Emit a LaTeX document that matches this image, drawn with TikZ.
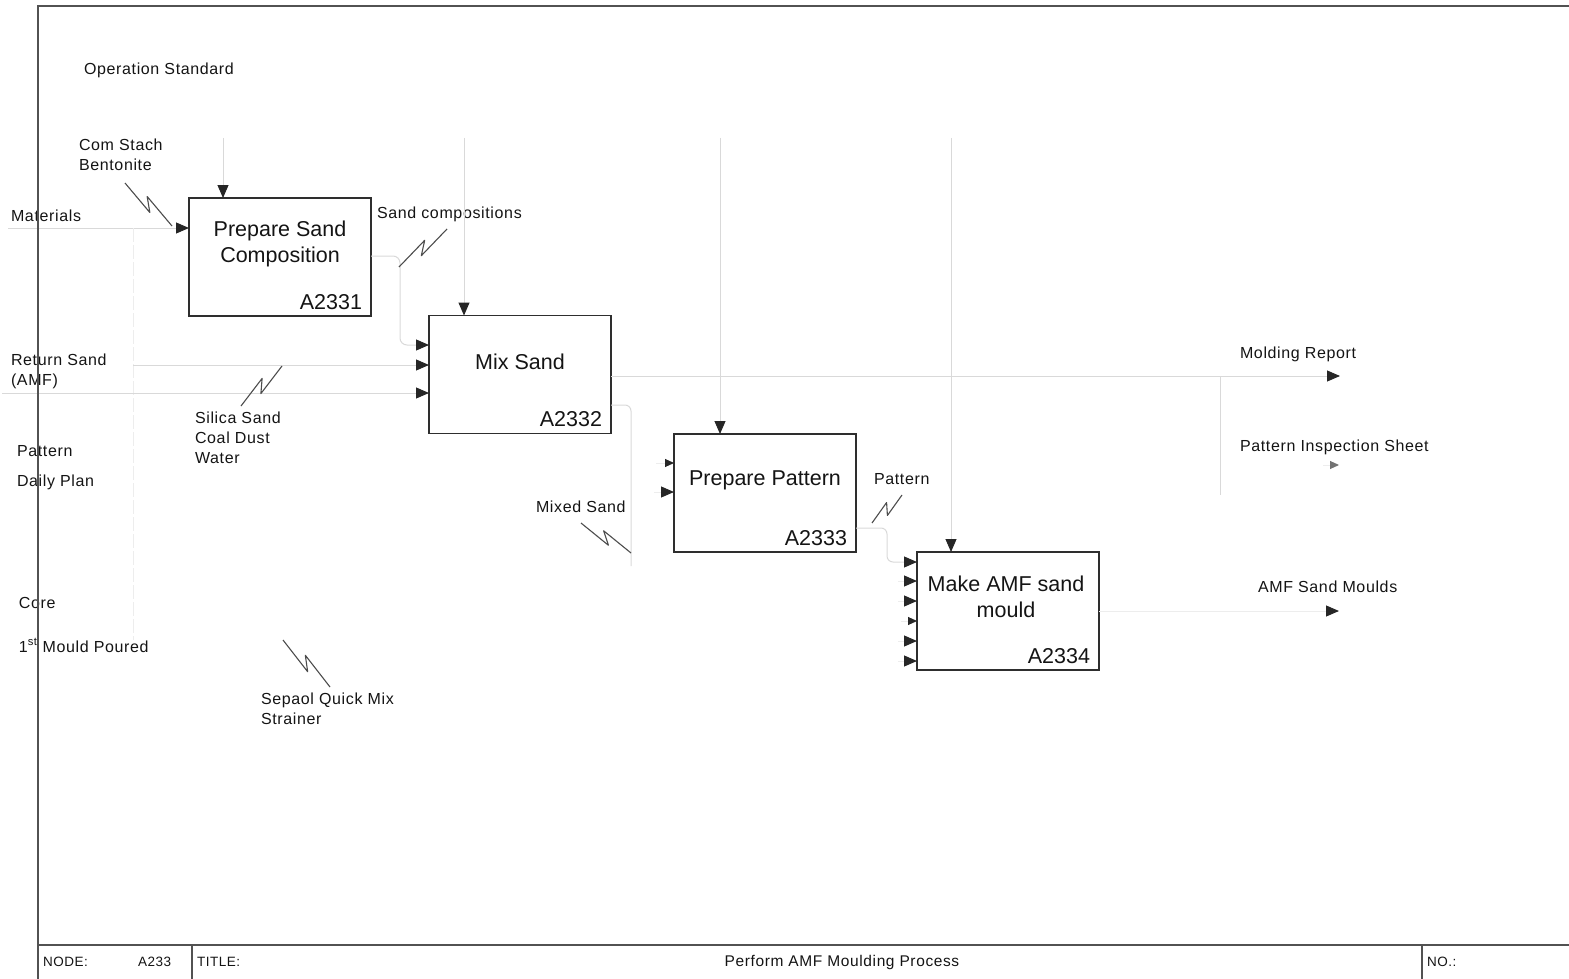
\documentclass[tikz,border=0pt]{standalone}
\usepackage{fontspec}
\setmainfont{Liberation Sans}
\newfontfamily\lblfont[LetterSpace=4]{Liberation Sans}
\usetikzlibrary{arrows.meta,calc}
\colorlet{inkcol}{black!92}
\colorlet{wirecol}{black!15}
\colorlet{faintcol}{black!7}
\colorlet{tipcol}{black!85}
% squiggle leader from (#1,#2) to (#3,#4); #5 = side of the kink (+1/-1)
\newcommand\leaderzig[5]{%
  \pgfmathsetmacro\zgdx{#3-#1}%
  \pgfmathsetmacro\zgdy{#4-#2}%
  \pgfmathsetmacro\zglen{veclen(\zgdx,\zgdy)}%
  \pgfmathsetmacro\zgpx{-(#5)*\zgdy/\zglen*5}%
  \pgfmathsetmacro\zgpy{(#5)*\zgdx/\zglen*5}%
  \draw[zig] (#1,#2) -- ({#1+0.6*\zgdx+\zgpx},{#2+0.6*\zgdy+\zgpy})
    -- ({#1+0.4*\zgdx-\zgpx},{#2+0.4*\zgdy-\zgpy}) -- (#3,#4);}
\begin{document}
\begin{tikzpicture}[x=1pt,y=-1pt,
  every node/.style={inner sep=0pt,outer sep=0pt,text=inkcol},
  frameline/.style={draw=black!68,line width=1.2pt},
  procbox/.style={draw=black!82,line width=1.3pt,minimum width=182pt,minimum height=118pt},
  boxtext/.style={font=\fontsize{21.5}{25.5}\selectfont,align=center},
  boxid/.style={font=\fontsize{21.5}{25.5}\selectfont,anchor=base east},
  lbl/.style={font=\lblfont\fontsize{16}{20}\selectfont,align=left},
  barlbl/.style={font=\lblfont\fontsize{13.5}{15}\selectfont,anchor=west},
  wire/.style={draw=wirecol,line width=1pt},
  ghost/.style={draw=faintcol,line width=1pt},
  arrow/.style={wire,-{Triangle[length=13pt,width=11pt,color=tipcol]}},
  ghostarrow/.style={ghost,-{Triangle[length=13pt,width=11pt,color=tipcol]}},
  ghostsmall/.style={ghost,-{Triangle[length=9pt,width=8pt,color=tipcol]}},
  palesmall/.style={ghost,-{Triangle[length=9pt,width=8pt,color=black!55]}},
  zig/.style={draw=black!70,line width=1.1pt,line join=round},
]
\useasboundingbox (0,0) rectangle (1569,979);

% ---------- activity boxes ----------
\node[procbox] (b1) at (280,257) {};
\node[boxtext] (b1t) at (280,244) {Prepare Sand\\Composition};
\node[boxid] (b1id) at ($(b1.south east)+(-9,-7)$) {A2331};

\node[procbox] (b2) at (520,374.5) {};
\node[boxtext] (b2t) at (520,362) {Mix Sand};
\node[boxid] (b2id) at ($(b2.south east)+(-9,-7)$) {A2332};

\node[procbox] (b3) at (765,493) {};
\node[boxtext] (b3t) at (765,480) {Prepare Pattern};
\node[boxid] (b3id) at ($(b3.south east)+(-9,-7)$) {A2333};

\node[procbox] (b4) at (1008,611) {};
\node[boxtext] (b4t) at (1006,597) {Make AMF sand\\mould};
\node[boxid] (b4id) at ($(b4.south east)+(-9,-7)$) {A2334};

% ---------- arrow labels ----------
\node[lbl,anchor=base west] (lOS) at (84,75) {Operation Standard};
\node[lbl,anchor=north west] (lCS) at (79,139) {Com Stach\\Bentonite};
\node[lbl,anchor=base west] (lMat) at (11,221) {Materials};
\node[lbl,anchor=base west] (lSC) at (377,218) {Sand compositions};
\node[lbl,anchor=north west] (lRS) at (11,354) {Return Sand\\(AMF)};
\node[lbl,anchor=north west] (lSi) at (195,412) {Silica Sand\\Coal Dust\\Water};
\node[lbl,anchor=base west] (lPt) at (17,456) {Pattern};
\node[lbl,anchor=base west] (lDP) at (17,486) {Daily Plan};
\node[lbl,anchor=base west] (lMS) at (536,512) {Mixed Sand};
\node[lbl,anchor=base west] (lPt2) at (874,484) {Pattern};
\node[lbl,anchor=base west] (lCo) at (19,608) {Core};
\node[lbl,anchor=base west] (lMP) at (19,652) {1\textsuperscript{st} Mould Poured};
\node[lbl,anchor=north west] (lSQ) at (261,693) {Sepaol Quick Mix\\Strainer};
\node[lbl,anchor=base west] (lMR) at (1240,358) {Molding Report};
\node[lbl,anchor=base west] (lPI) at (1240,451) {Pattern Inspection Sheet};
\node[lbl,anchor=base west] (lAM) at (1258,592) {AMF Sand Moulds};

% ---------- controls ----------
\coordinate (c1) at (223,138);
\coordinate (c2) at (464,138);
\coordinate (c3) at (720,138);
\coordinate (c4) at (951,138);
\draw[arrow] (c1) -- (c1 |- b1.north);
\draw[arrow] (c2) -- (c2 |- b2.north);
\draw[arrow] (c3) -- (c3 |- b3.north);
\draw[arrow] (c4) -- (c4 |- b4.north);

% ---------- inputs ----------
\coordinate (mat) at (8,228);
\draw[arrow] (mat) -- (mat -| b1.west);
\coordinate (matD) at (133,640);
\draw[ghost,dash pattern=on 14pt off 3pt] (mat -| matD) -- (matD);

\coordinate (scA) at (400,256);
\coordinate (scB) at (400,345);
\draw[arrow,rounded corners=7pt] (scA -| b1.east) -- (scA) -- (scB) -- (scB -| b2.west);

\coordinate (rsA) at (133,365);
\draw[arrow] (rsA) -- (rsA -| b2.west);
\coordinate (rsB) at (2,393);
\draw[arrow] (rsB) -- (rsB -| b2.west);

\coordinate (p3a) at (656,463);
\draw[ghostsmall] (p3a) -- (p3a -| b3.west);
\coordinate (p3b) at (654,492);
\draw[ghostarrow] (p3b) -- (p3b -| b3.west);

\coordinate (ptA) at (887,528);
\coordinate (ptB) at (887,562);
\draw[arrow,rounded corners=6pt] (ptA -| b3.east) -- (ptA) -- (ptB) -- (ptB -| b4.west);

\foreach \yy/\nm in {581/m1,601/m2,641/m4,661/m5}{
  \coordinate (\nm) at (898,\yy);
  \draw[ghostarrow] (\nm) -- (\nm -| b4.west);
}
\coordinate (m3) at (901,621);
\draw[ghostsmall] (m3) -- (m3 -| b4.west);

% ---------- outputs ----------
\coordinate (mr) at (1340,376);
\draw[arrow] (mr -| b2.east) -- (mr);
\coordinate (brA) at (1220,376);
\coordinate (brB) at (1220,495);
\draw[wire] (brA) -- (brB);

\coordinate (msA) at (631,405);
\coordinate (msB) at (631,566);
\draw[wire,rounded corners=6pt] (msA -| b2.east) -- (msA) -- (msB);

\coordinate (pis) at (1339,465);
\draw[palesmall] ($(pis)+(-16,0)$) -- (pis);
\coordinate (asm) at (1339,611);
\draw[ghostarrow] (asm -| b4.east) -- (asm);

% ---------- squiggle leaders ----------
\leaderzig{125}{183}{172}{226}{1}
\leaderzig{399}{267}{447}{229}{-1}
\leaderzig{241}{406}{282}{366}{-1}
\leaderzig{581}{523}{631}{553}{1}
\leaderzig{872}{523}{902}{495}{-1}
\leaderzig{283}{640}{330}{687}{1}

% ---------- frame and title bar ----------
\draw[frameline] (38,979) -- (38,6) -- (1569,6);
\draw[frameline] (38,945) -- (1569,945);
\draw[frameline] (192,945) -- (192,979);
\draw[frameline] (1422,945) -- (1422,979);
\node[barlbl] (tNode) at (43,962) {NODE:};
\node[barlbl] (tNum) at (138,962) {A233};
\node[barlbl] (tTitle) at (197,962) {TITLE:};
\node[font=\lblfont\fontsize{15.5}{17}\selectfont] (tName) at (842,962) {Perform AMF Moulding Process};
\node[barlbl] (tNo) at (1427,962) {NO.:};
\end{tikzpicture}
\end{document}
